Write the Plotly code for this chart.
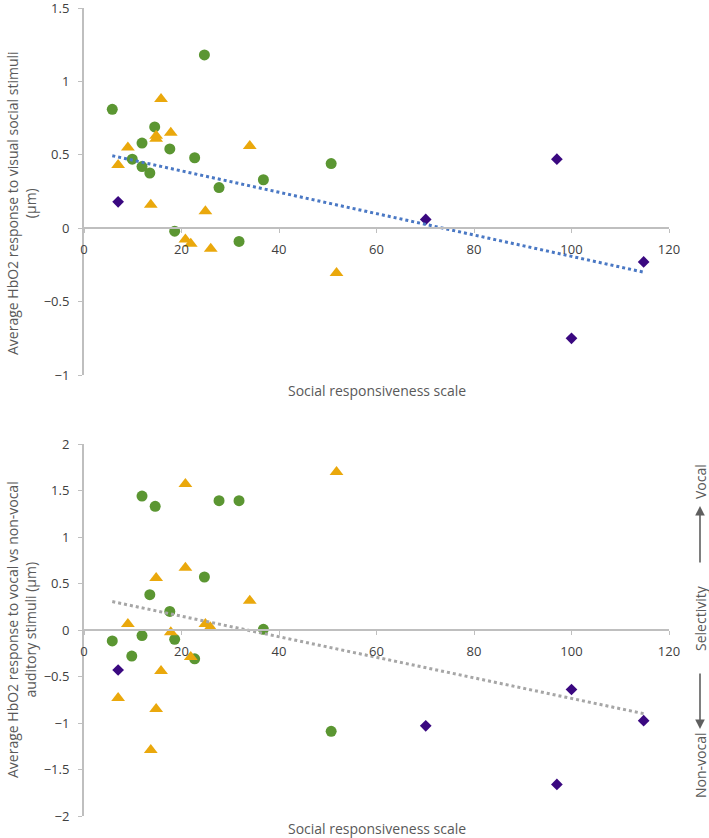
import numpy as np
import plotly.graph_objects as go

# ---------------- data ----------------
top_green_x = [5.8, 24.7, 14.5, 11.9, 17.6, 22.7, 9.9, 11.9, 13.5, 27.7, 36.8, 50.7, 18.6, 31.8]
top_green_y = [0.81, 1.18, 0.69, 0.58, 0.54, 0.48, 0.47, 0.42, 0.376, 0.277, 0.33, 0.44, -0.02, -0.09]
top_tri_x = [15.8, 14.8, 14.8, 17.8, 9.0, 7.0, 34.0, 13.7, 24.9, 20.8, 21.9, 26.0, 51.8]
top_tri_y = [0.88, 0.63, 0.61, 0.65, 0.55, 0.43, 0.56, 0.16, 0.115, -0.077, -0.106, -0.14, -0.306]
top_dia_x = [7.0, 70.1, 97.0, 114.8, 100.0]
top_dia_y = [0.18, 0.06, 0.47, -0.23, -0.75]

bot_green_x = [11.9, 14.6, 27.7, 31.8, 24.7, 13.5, 17.6, 36.8, 5.8, 11.9, 18.6, 9.8, 22.7, 50.7]
bot_green_y = [1.44, 1.33, 1.39, 1.39, 0.57, 0.38, 0.20, 0.007, -0.118, -0.06, -0.10, -0.28, -0.31, -1.09]
bot_tri_x = [20.8, 51.8, 20.8, 14.8, 34.0, 9.0, 24.9, 25.9, 17.8, 21.9, 15.8, 7.0, 14.8, 13.7]
bot_tri_y = [1.57, 1.70, 0.67, 0.56, 0.315, 0.065, 0.065, 0.03, -0.025, -0.29, -0.44, -0.73, -0.85, -1.29]
bot_dia_x = [7.0, 70.1, 100.0, 114.8, 97.0]
bot_dia_y = [-0.43, -1.03, -0.64, -0.975, -1.66]

x_title = "Social responsiveness scale"
top_y_title = "Average HbO2 response to visual social stimuli<br>(μm)"
bot_y_title = "Average HbO2 response to vocal vs non-vocal<br>auditory stimuli (μm)"
side_labels = ["Vocal", "Selectivity", "Non-vocal"]

x_range = [0, 120]
top_range = [-1, 1.5]
bot_range = [-2, 2]
x_ticks = [0, 20, 40, 60, 80, 100, 120]
top_ticks = [-1, -0.5, 0, 0.5, 1, 1.5]
bot_ticks = [-2, -1.5, -1, -0.5, 0, 0.5, 1, 1.5, 2]

# ---------------- styles ----------------
GREEN = "#5b9632"
YELLOW = "#eaa80c"
PURPLE = "#3a0880"
AXIS = "#bfbfbf"
TICKTXT = "#404040"
TITLETXT = "#595959"
FONT = "Open Sans"

W, H = 709, 838
ML, MR, MT, MB = 84, 40, 8, 22
PW, PH = W - ML - MR, H - MT - MB


def py2paper(py):
    return (H - MB - py) / PH


def px2paper(px):
    return (px - ML) / PW


top_dom = [py2paper(375), 1.0]
bot_dom = [0.0, py2paper(444)]


def zero_pos(dom, rng):
    return dom[0] + (0 - rng[0]) / (rng[1] - rng[0]) * (dom[1] - dom[0])


fig = go.Figure()


def add_panel(gx, gy, tx, ty, dx, dy, xa, ya, trend_color):
    fig.add_trace(go.Scatter(x=gx, y=gy, mode="markers", xaxis=xa, yaxis=ya, cliponaxis=False,
                             marker=dict(symbol="circle", size=11, color=GREEN), showlegend=False))
    fig.add_trace(go.Scatter(x=tx, y=ty, mode="markers", xaxis=xa, yaxis=ya, cliponaxis=False,
                             marker=dict(symbol="triangle-up", size=12, color=YELLOW), showlegend=False))
    fig.add_trace(go.Scatter(x=dx, y=dy, mode="markers", xaxis=xa, yaxis=ya, cliponaxis=False,
                             marker=dict(symbol="diamond", size=9, color=PURPLE), showlegend=False))
    allx = np.array(gx + tx + dx)
    ally = np.array(gy + ty + dy)
    m, b = np.polyfit(allx, ally, 1)
    lx = np.array([allx.min(), allx.max()])
    fig.add_trace(go.Scatter(x=lx, y=m * lx + b, mode="lines", xaxis=xa, yaxis=ya,
                             line=dict(color=trend_color, width=3, dash="dot"), showlegend=False))


add_panel(top_green_x, top_green_y, top_tri_x, top_tri_y, top_dia_x, top_dia_y, "x", "y", "#4a78c4")
add_panel(bot_green_x, bot_green_y, bot_tri_x, bot_tri_y, bot_dia_x, bot_dia_y, "x2", "y2", "#a6a6a6")

xaxis_common = dict(range=x_range, tickvals=x_ticks, showgrid=False, zeroline=False,
                    showline=True, linecolor=AXIS, linewidth=2, ticks="outside", ticklen=4, tickcolor=AXIS,
                    tickfont=dict(family=FONT, size=13, color=TICKTXT), anchor="free", ticklabelstandoff=5,
                    automargin=False, ticklabeloverflow="allow")
yaxis_common = dict(showgrid=False, zeroline=False, showline=True, linecolor=AXIS, linewidth=2,
                    ticks="outside", ticklen=4, tickcolor=AXIS, tickfont=dict(family=FONT, size=13, color=TICKTXT),
                    ticklabelstandoff=6, automargin=False, ticklabeloverflow="allow")

fig.update_layout(
    width=W, height=H, margin=dict(l=ML, r=MR, t=MT, b=MB, autoexpand=False),
    paper_bgcolor="white", plot_bgcolor="white",
    xaxis=dict(domain=[0, 1], position=zero_pos(top_dom, top_range), **xaxis_common),
    yaxis=dict(domain=top_dom, range=top_range, tickvals=top_ticks, anchor="x", **yaxis_common),
    xaxis2=dict(domain=[0, 1], position=zero_pos(bot_dom, bot_range), **xaxis_common),
    yaxis2=dict(domain=bot_dom, range=bot_range, tickvals=bot_ticks, anchor="x2", **yaxis_common),
)

tfont = dict(family=FONT, size=14, color=TITLETXT)
ann = []
# x titles
ann.append(dict(text=x_title, x=0.5, y=py2paper(390), xref="paper", yref="paper", showarrow=False,
                font=tfont, xanchor="center", yanchor="middle"))
ann.append(dict(text=x_title, x=0.5, y=py2paper(829), xref="paper", yref="paper", showarrow=False,
                font=tfont, xanchor="center", yanchor="middle"))
# y titles
ann.append(dict(text=top_y_title, x=px2paper(21), y=py2paper(203), xref="paper", yref="paper",
                showarrow=False, font=tfont, textangle=-90, xanchor="center", yanchor="middle", align="center"))
ann.append(dict(text=bot_y_title, x=px2paper(21), y=py2paper(630), xref="paper", yref="paper",
                showarrow=False, font=tfont, textangle=-90, xanchor="center", yanchor="middle", align="center"))
# side labels
sx = px2paper(700)
for lab, cy in zip(side_labels, [482, 618, 765]):
    ann.append(dict(text=lab, x=sx, y=py2paper(cy), xref="paper", yref="paper", showarrow=False,
                    font=tfont, textangle=-90, xanchor="center", yanchor="middle"))
# arrows
ann.append(dict(text="", x=sx, y=py2paper(506), xref="paper", yref="paper", showarrow=True,
                ax=0, ay=58, arrowhead=2, arrowsize=1.2, arrowwidth=1.6, arrowcolor="#5f5f5f"))
ann.append(dict(text="", x=sx, y=py2paper(729), xref="paper", yref="paper", showarrow=True,
                ax=0, ay=-57, arrowhead=2, arrowsize=1.2, arrowwidth=1.6, arrowcolor="#5f5f5f"))
fig.update_layout(annotations=ann)

fig.write_html("out.html", config={"displayModeBar": False},
               post_script="document.body.style.margin='0';document.body.style.padding='0';")
